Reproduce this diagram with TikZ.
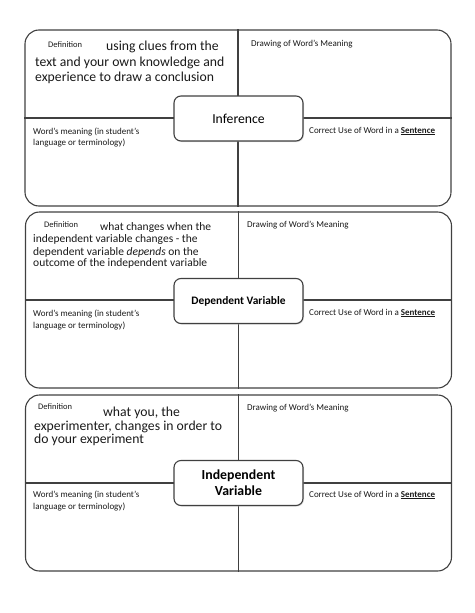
\documentclass[tikz,border=0pt]{standalone}
\usepackage{fontspec}
\setmainfont{Carlito}
\usetikzlibrary{shadows}
\begin{document}
\begin{tikzpicture}[x=1pt,y=-1pt,
  frame/.style={draw=black!75, line width=1.1pt, rounded corners=14pt,
    minimum width=426pt, minimum height=176pt, inner sep=0pt},
  divider/.style={draw=black!75, line width=1.1pt},
  termbox/.style={draw=black!75, line width=1.1pt, fill=white, rounded corners=7pt,
    minimum width=129pt, minimum height=45pt, align=center, inner sep=0pt,
    drop shadow={shadow xshift=1pt, shadow yshift=-1pt, fill=black!25}},
  small/.style={font=\fontsize{9}{11}\selectfont, anchor=west, inner sep=0pt, text=black!90},
  tiny/.style={font=\fontsize{8.5}{10}\selectfont, anchor=west, inner sep=0pt, text=black!90},
  bigdef/.style={font=\fontsize{13.7}{15}\selectfont, anchor=west, inner sep=0pt, text=black!90},
  middef/.style={font=\fontsize{11.5}{12.5}\selectfont, anchor=west, inner sep=0pt, text=black!90}]
\useasboundingbox (0,0) rectangle (474,613);

% ---------- Frame 1 ----------
\node[frame] (f1) at (238,118) {};
\draw[divider] (f1.west) -- (f1.east);
\draw[divider] (f1.north) -- (f1.south);
\node[termbox, font=\fontsize{13.7}{15}\selectfont] (t1) at (238.5,118.5) {Inference};
\node[tiny] (def1) at (48,45) {Definition};
\node[bigdef] (d1a) at (106,47) {using clues from the};
\node[bigdef] (d1b) at (35,63) {text and your own knowledge and};
\node[bigdef] (d1c) at (35,78) {experience to draw a conclusion};
\node[small] (w1a) at (33,132) {Word’s meaning (in student’s};
\node[small] (w1b) at (33,143) {language or terminology)};
\node[small] (dr1) at (251,44) {Drawing of Word’s Meaning};
\node[small] (cu1) at (309,131) {Correct Use of Word in a \textbf{\underline{Sentence}}};

% ---------- Frame 2 ----------
\node[frame] (f2) at (238.5,300) {};
\draw[divider] (f2.west) -- (f2.east);
\draw[divider] (f2.north) -- (f2.south);
\node[termbox, font=\bfseries\fontsize{11.4}{13}\selectfont] (t2) at (238.5,301) {Dependent Variable};
\node[tiny] (def2) at (44,225) {Definition};
\node[middef] (d2a) at (100,227) {what changes when the};
\node[middef] (d2b) at (33,239) {independent variable changes - the};
\node[middef] (d2c) at (33,252) {dependent variable \textit{depends} on the};
\node[middef] (d2d) at (33,263) {outcome of the independent variable};
\node[small] (w2a) at (33,314) {Word’s meaning (in student’s};
\node[small] (w2b) at (33,326) {language or terminology)};
\node[small] (dr2) at (247,225) {Drawing of Word’s Meaning};
\node[small] (cu2) at (309,313) {Correct Use of Word in a \textbf{\underline{Sentence}}};

% ---------- Frame 3 ----------
\node[frame] (f3) at (238.5,483) {};
\draw[divider] (f3.west) -- (f3.east);
\draw[divider] (f3.north) -- (f3.south);
\node[termbox, font=\bfseries\fontsize{13.8}{16}\selectfont] (t3) at (238.5,483) {Independent\\Variable};
\node[tiny] (def3) at (38,407) {Definition};
\node[bigdef] (d3a) at (103,413) {what you, the};
\node[bigdef] (d3b) at (34,427) {experimenter, changes in order to};
\node[bigdef] (d3c) at (34,440) {do your experiment};
\node[small] (w3a) at (33,495) {Word’s meaning (in student’s};
\node[small] (w3b) at (33,507) {language or terminology)};
\node[small] (dr3) at (247,408) {Drawing of Word’s Meaning};
\node[small] (cu3) at (309,495) {Correct Use of Word in a \textbf{\underline{Sentence}}};
\end{tikzpicture}
\end{document}
